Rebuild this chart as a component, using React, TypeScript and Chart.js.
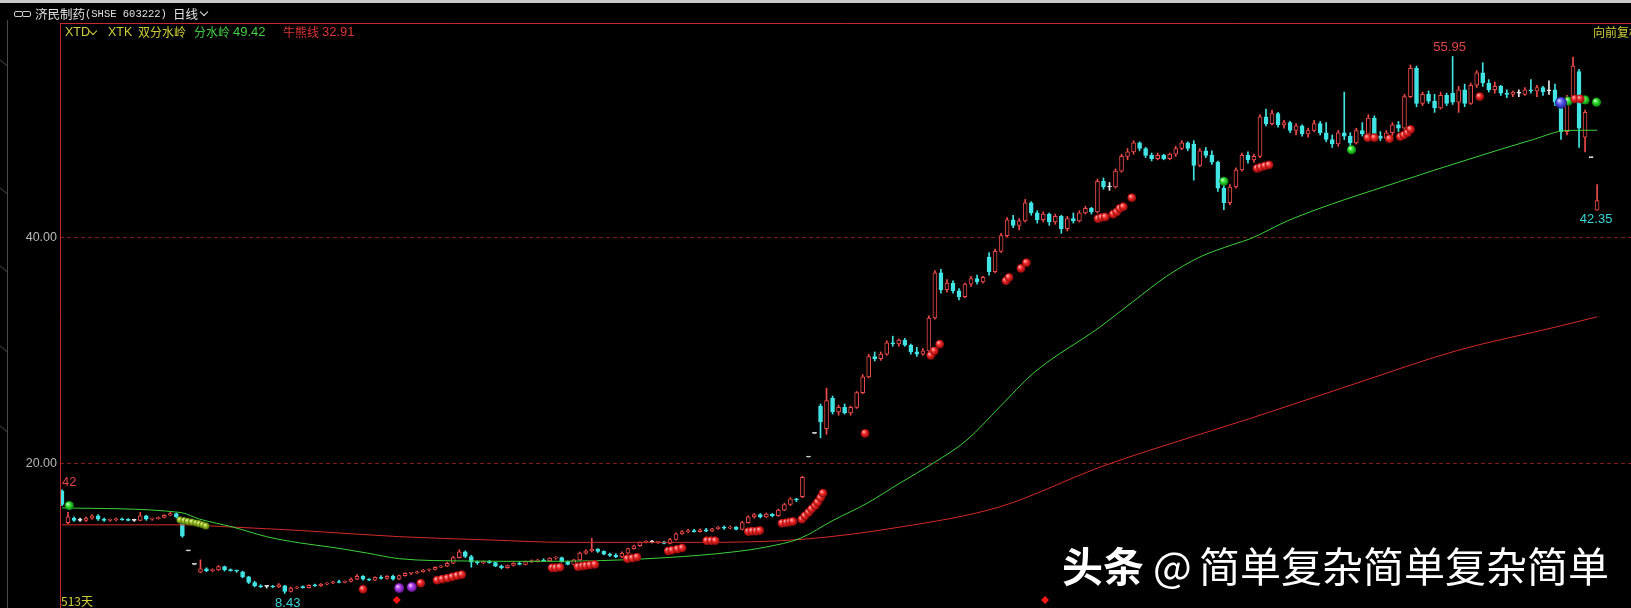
import React, { useEffect, useRef } from "react";
import { Chart, registerables } from "chart.js";

Chart.register(...registerables);

// ---------- data ----------
// daily candles compressed (one bar ≈ two sessions): [open, high, low, close]
const candles: number[][] = [
  [17.5,17.6,16.2,16.3],[14.7,15.6,14.6,15.2],[15.1,15.2,14.8,14.9],[14.9,15.1,14.8,14.9],[14.9,15.2,14.8,15.1],
  [15.1,15.4,15.0,15.3],[15.3,15.4,14.9,15.0],[15.0,15.1,14.8,14.9],[14.9,15.0,14.8,14.95],[14.95,15.1,14.85,15.0],
  [15.0,15.1,14.9,14.95],[14.95,15.05,14.85,14.9],[14.9,15.0,14.8,14.9],[14.9,15.6,14.85,15.3],[15.3,15.35,14.9,15.0],
  [15.0,15.1,14.9,15.05],[15.05,15.2,15.0,15.15],[15.15,15.4,15.1,15.35],[15.35,15.6,15.3,15.5],[15.5,15.55,15.1,15.2],
  [14.6,14.6,13.4,13.5],[12.2,12.2,12.2,12.2],[11.0,11.0,11.0,11.0],[10.3,11.4,10.25,10.6],[10.6,10.7,10.35,10.45],
  [10.45,10.6,10.35,10.5],[10.5,10.9,10.45,10.8],[10.8,10.85,10.4,10.5],[10.5,10.6,10.4,10.45],[10.45,10.5,10.3,10.4],
  [10.35,10.4,9.8,9.9],[9.9,9.95,9.3,9.4],[9.4,9.5,9.0,9.1],[9.1,9.2,8.95,9.0],[9.05,9.1,8.9,9.05],
  [9.05,9.15,8.95,9.0],[9.0,9.3,8.95,9.2],[9.1,9.15,8.43,8.6],[8.6,9.0,8.55,8.9],[8.9,9.05,8.85,9.0],
  [9.0,9.1,8.9,8.95],[8.95,9.2,8.9,9.15],[9.15,9.25,9.05,9.1],[9.1,9.3,9.05,9.25],[9.25,9.4,9.2,9.35],
  [9.35,9.5,9.3,9.45],[9.45,9.6,9.35,9.4],[9.4,9.55,9.35,9.5],[9.5,9.8,9.45,9.7],[9.7,10.1,9.65,9.95],
  [9.95,10.0,9.6,9.7],[9.7,9.75,9.55,9.6],[9.6,9.9,9.55,9.85],[9.85,10.0,9.7,9.75],[9.75,10.0,9.7,9.95],
  [9.95,10.05,9.6,9.7],[9.7,10.05,9.65,10.0],[10.0,10.25,9.95,10.2],[10.2,10.3,10.1,10.25],[10.25,10.4,10.2,10.35],
  [10.35,10.55,10.3,10.5],[10.5,10.6,10.4,10.55],[10.55,10.8,10.5,10.75],[10.75,10.9,10.7,10.85],[10.85,11.2,10.8,11.1],
  [11.1,11.7,11.05,11.6],[11.6,12.3,11.55,12.1],[12.1,12.2,11.6,11.7],[11.7,11.8,10.75,11.2],[11.2,11.3,11.0,11.15],
  [11.15,11.3,11.05,11.2],[11.2,11.35,11.1,11.15],[11.15,11.2,10.8,10.85],[10.85,10.95,10.6,10.7],[10.7,10.95,10.65,10.9],
  [10.9,11.15,10.85,11.1],[11.1,11.2,10.95,11.0],[11.0,11.3,10.95,11.25],[11.25,11.4,11.15,11.3],[11.3,11.45,11.2,11.35],
  [11.35,11.5,11.25,11.3],[11.3,11.6,11.25,11.55],[11.55,11.7,11.45,11.6],[11.6,11.65,11.2,11.25],[11.25,11.3,10.95,11.0],
  [11.0,11.45,10.95,11.4],[11.4,12.1,11.35,12.0],[12.0,12.3,11.9,12.2],[12.2,13.3,12.1,12.35],[12.35,12.4,12.05,12.15],
  [12.15,12.2,11.85,11.9],[11.9,12.0,11.7,11.8],[11.8,11.95,11.6,11.65],[11.65,12.1,11.6,12.0],[12.0,12.45,11.95,12.4],
  [12.4,12.7,12.35,12.65],[12.65,13.0,12.6,12.95],[12.95,13.1,12.9,13.0],[13.0,13.1,12.9,13.0],[12.95,13.05,12.85,13.0],
  [13.0,13.05,12.8,12.85],[12.85,13.3,12.8,13.2],[13.2,13.8,13.15,13.7],[13.7,14.0,13.65,13.9],[13.9,14.1,13.8,14.0],
  [14.0,14.1,13.85,13.9],[13.9,14.15,13.85,14.05],[14.05,14.2,13.9,13.95],[13.95,14.2,13.9,14.15],[14.15,14.35,14.1,14.3],
  [14.3,14.4,14.1,14.2],[14.2,14.4,14.15,14.3],[14.3,14.35,14.05,14.1],[14.1,14.8,14.05,14.7],[14.7,15.3,14.65,15.2],
  [15.2,15.5,15.1,15.4],[15.4,15.5,15.1,15.2],[15.2,15.55,15.15,15.45],[15.45,15.5,15.2,15.3],[15.3,15.9,15.25,15.8],
  [15.8,16.4,15.75,16.3],[16.3,16.9,16.2,16.8],[16.8,16.85,16.55,16.7],[17.0,18.8,16.9,18.7],[20.5,20.5,20.5,20.5],
  [22.6,22.6,22.6,22.6],[25.0,25.2,22.2,23.6],[23.0,26.6,22.5,25.5],[25.7,25.9,24.3,24.5],[24.5,25.1,24.2,24.9],
  [24.9,25.2,24.3,24.4],[24.4,25.0,24.2,24.9],[24.9,26.3,24.8,26.2],[26.2,27.8,26.1,27.6],[27.6,29.6,27.5,29.4],
  [29.4,29.8,29.0,29.2],[29.2,29.8,29.05,29.6],[29.6,30.8,29.5,30.6],[30.6,31.2,30.3,30.5],[30.5,30.95,30.3,30.85],
  [30.85,31.0,30.3,30.4],[30.4,30.5,29.6,29.8],[29.8,30.2,29.4,29.6],[29.6,30.1,29.5,29.9],[29.9,33.0,29.8,32.8],
  [32.8,37.0,32.7,36.8],[36.8,37.1,35.0,35.3],[35.3,36.2,35.1,35.9],[35.9,36.1,35.0,35.2],[35.2,35.4,34.4,34.7],
  [34.7,35.9,34.6,35.8],[35.8,36.5,35.6,36.3],[36.3,36.6,35.8,36.0],[36.0,36.5,35.9,36.4],[38.2,38.6,36.6,36.9],
  [36.9,38.9,36.8,38.7],[38.7,40.3,38.6,40.1],[40.1,41.7,40.0,41.5],[41.5,41.9,40.8,41.0],[41.0,41.6,40.6,41.4],
  [41.4,43.3,41.3,43.0],[43.0,43.1,41.9,42.1],[42.1,42.3,41.2,41.5],[41.5,42.2,41.3,42.0],[42.0,42.1,41.0,41.3],
  [41.3,42.0,41.1,41.8],[41.8,41.9,40.3,40.7],[40.7,41.8,40.5,41.6],[41.6,42.1,41.2,41.4],[41.4,42.3,41.3,42.1],
  [42.1,42.7,42.0,42.5],[42.5,42.6,42.0,42.2],[42.2,45.1,42.1,44.9],[44.9,45.2,44.2,44.4],[44.4,44.8,44.1,44.4],
  [44.4,46.0,44.3,45.8],[45.8,47.3,45.7,47.1],[47.1,47.8,46.8,47.5],[47.5,48.5,47.3,48.3],[48.3,48.4,47.6,47.8],
  [47.8,47.9,47.0,47.2],[47.2,47.4,46.7,46.9],[46.9,47.4,46.8,47.2],[47.2,47.3,46.8,46.9],[46.9,47.4,46.8,47.3],
  [47.3,48.0,47.1,47.8],[47.8,48.5,47.7,48.3],[48.3,48.4,47.6,47.8],[48.2,48.5,45.0,46.3],[46.3,47.8,46.2,47.6],
  [47.6,47.9,47.0,47.2],[47.2,47.6,46.4,46.6],[46.6,46.7,44.0,44.3],[44.3,45.0,42.4,43.0],[43.0,44.6,42.8,44.4],
  [44.4,46.1,44.3,45.9],[45.9,47.4,45.8,47.2],[47.2,47.5,46.5,46.8],[46.8,47.3,46.6,47.1],[47.1,50.8,47.0,50.6],
  [50.6,51.3,49.8,50.0],[50.0,51.2,49.9,50.9],[50.9,51.0,49.7,49.9],[49.9,50.3,49.6,50.1],[50.1,50.2,49.2,49.4],
  [49.4,50.0,49.0,49.8],[49.8,49.9,48.9,49.1],[49.1,49.6,48.8,49.4],[49.4,50.3,49.3,50.0],[50.0,50.2,49.0,49.2],
  [49.2,50.1,48.4,48.6],[48.6,49.0,47.9,48.2],[48.2,49.4,48.0,49.2],[49.2,52.8,48.6,48.9],[48.9,49.2,47.9,48.3],
  [48.3,49.6,48.2,49.4],[49.4,50.1,48.9,49.1],[49.1,50.8,49.0,50.5],[50.5,50.7,48.6,48.9],[48.9,49.3,48.5,48.7],
  [48.7,49.4,48.5,49.2],[49.2,50.1,48.9,49.9],[49.9,50.2,49.3,49.6],[49.6,52.6,49.5,52.4],[52.4,55.2,52.3,54.9],
  [54.9,55.1,51.5,51.8],[51.8,52.8,51.6,52.6],[52.6,52.9,51.8,52.0],[52.0,52.6,51.0,51.4],[51.4,52.8,51.3,52.5],
  [52.5,52.7,51.6,51.8],[52.7,55.95,51.7,51.9],[51.9,53.3,51.0,53.0],[53.0,53.5,51.5,51.8],[51.8,53.6,51.7,53.4],
  [53.4,54.7,53.2,54.5],[54.5,55.4,53.3,53.6],[53.6,53.9,52.8,53.0],[53.0,53.7,52.7,53.3],[53.3,53.4,52.5,52.7],
  [52.7,53.0,52.3,52.6],[52.6,52.9,52.4,52.8],[52.7,53.0,52.4,52.7],[52.6,53.2,52.5,53.0],[53.0,53.9,52.7,52.9],
  [52.9,53.4,52.4,53.2],[53.2,53.3,52.5,52.8],[52.9,53.8,52.6,52.9],[53.0,53.5,51.6,51.9],[51.9,52.1,48.6,49.3],
  [49.3,52.5,49.0,52.3],[52.3,55.9,52.2,55.1],[54.6,54.8,47.9,49.6],[48.8,51.2,47.5,51.0],[47.0,47.0,47.0,47.0],
  [42.35,44.6,42.35,43.2],
];

// 分水岭 (green) line vertices [barIndex, value]
const waterLine: number[][] = [
  [0,16.0],[19.6,15.6],[22.9,15.0],[28.4,14.3],[34,13.45],[39.5,12.9],[45,12.5],[50.7,12.0],[56.1,11.5],
  [67.3,11.3],[78.2,11.27],[89.4,11.33],[100.5,11.6],[111.5,12.1],[117.1,12.55],[122.6,13.3],[128.1,14.9],
  [133.7,16.4],[139.2,18.2],[144.7,19.95],[150.3,22.0],[155.8,24.95],[161.3,27.9],[172.4,32.0],[177.9,34.25],
  [183.5,36.5],[189,38.2],[194.5,39.3],[197.3,39.8],[204,41.5],[222.3,44.9],[233.4,46.8],[244.4,48.6],
  [250,49.4],[255,49.42],
];
// 牛熊线 (red) line vertices [barIndex, value]
const bullBearLine: number[][] = [
  [0,14.5],[19.6,14.5],[28.4,14.3],[39.5,14.0],[56.1,13.45],[71.1,13.16],[83.9,12.95],[106,12.95],
  [122.6,13.2],[139.2,14.3],[155.8,16.1],[172.4,19.6],[180.7,21.1],[197.3,23.9],[214.3,26.9],[231.6,29.9],
  [248.9,32.1],[255,32.91],
];

// signal balls [barIndex, price]
const redBalls: number[][] = [
  [50.0,8.8],[59.6,9.35],[62.3,9.6],[63.1,9.7],[64.0,9.78],[64.8,9.9],[65.6,10.0],[66.4,10.1],
  [81.4,10.7],[82.0,10.7],[82.7,10.75],[85.7,10.8],[86.4,10.85],[87.0,10.9],[87.7,10.95],[88.5,11.0],
  [93.9,11.5],[94.7,11.55],[95.5,11.65],[100.7,12.2],[101.3,12.25],[102.2,12.35],[103.0,12.45],
  [107.1,13.1],[107.8,13.1],[108.5,13.1],[114.0,13.9],[114.6,13.95],[115.3,13.95],[115.9,14.0],
  [119.6,14.65],[120.3,14.7],[120.9,14.75],[121.4,14.8],[122.9,15.0],[123.4,15.3],[124.0,15.6],[124.5,15.9],
  [125.1,16.2],[125.5,16.5],[126.0,16.9],[126.4,17.3],[133.4,22.6],[144.3,29.5],[144.9,29.9],[145.8,30.5],
  [156.8,36.1],[157.3,36.4],[159.3,37.2],[160.2,37.7],[172.1,41.6],[172.7,41.7],[173.3,41.75],
  [174.6,42.0],[175.2,42.2],[175.7,42.5],[176.3,42.65],[177.7,43.45],[198.5,46.05],[199.1,46.15],
  [199.8,46.26],[200.5,46.35],[216.9,48.76],[218.0,48.76],[220.5,48.67],[222.3,48.85],[222.9,49.0],
  [223.5,49.2],[224.0,49.5],[235.5,52.4],[251.3,52.2],[252.2,52.2],
];
const greenBalls: number[][] = [[1.2,16.2],[193,44.9],[214.2,47.7],[250.2,52.0],[253,52.1],[254.9,51.9]];
const oliveBalls: number[][] = [[19.6,14.93],[20.3,14.87],[20.9,14.8],[21.6,14.75],[22.3,14.66],[22.8,14.6],[23.4,14.5],[23.9,14.4]];
const purpleBalls: number[][] = [[56,8.9],[58.1,9.0]];
const blueBalls: number[][] = [[249,51.86]];
const diamonds: number[][] = [[55.6,7.85],[163.3,7.85]];

const yTicks = [20, 40];
const startLabel = "42";
const dayCountLabel = "513天";

// ---------- styling ----------
const UP = "#f04a4a";
const DOWN = "#42e4e4";
const FLAT = "#e8e8e8";
const LATIN = '"Liberation Sans", Arial, "Noto Sans CJK SC", sans-serif';
const CJK = '"Noto Sans CJK SC", "Liberation Sans", sans-serif';

const colorOf = (c: number[]) => (c[3] > c[0] ? UP : c[3] < c[0] ? DOWN : FLAT);

function ballFill(light: string, mid: string, dark: string, r: number) {
  return (ctx: any) => {
    const chart = ctx.chart;
    const raw = ctx.raw;
    if (!raw || !chart || !chart.scales || !chart.scales.x || !chart.scales.y) return mid;
    const px = chart.scales.x.getPixelForValue(raw[0]);
    const py = chart.scales.y.getPixelForValue(raw[1]);
    if (!isFinite(px) || !isFinite(py)) return mid;
    const g = chart.ctx.createRadialGradient(px - r * 0.35, py - r * 0.4, 0.3, px, py, r);
    g.addColorStop(0, light);
    g.addColorStop(0.45, mid);
    g.addColorStop(1, dark);
    return g;
  };
}

const decorPlugin = {
  id: "decor",
  beforeDraw(chart: any) {
    const c = chart.ctx;
    c.save();
    c.fillStyle = "#000";
    c.fillRect(0, 0, chart.width, chart.height);
    c.restore();
  },
  beforeDatasetsDraw(chart: any) {
    // horizontal dashed grid + value labels, placed through the y scale
    const c = chart.ctx;
    const a = chart.chartArea;
    const ys = chart.scales.y;
    c.save();
    c.strokeStyle = "#801b1b";
    c.lineWidth = 1;
    c.setLineDash([4, 3]);
    c.font = `12.5px ${LATIN}`;
    c.fillStyle = "#b8b8b8";
    c.textAlign = "right";
    c.textBaseline = "middle";
    yTicks.forEach((v) => {
      const py = Math.round(ys.getPixelForValue(v)) + 0.5;
      c.beginPath();
      c.moveTo(a.left, py);
      c.lineTo(a.right, py);
      c.stroke();
      c.fillText(v.toFixed(2), a.left - 3, py);
    });
    c.restore();
  },
  afterDatasetsDraw(chart: any) {
    const c = chart.ctx;
    const xs = chart.scales.x;
    const ys = chart.scales.y;
    let hi = 0;
    let lo = 0;
    candles.forEach((k, i) => {
      if (k[1] > candles[hi][1]) hi = i;
      if (k[2] < candles[lo][2]) lo = i;
    });
    const last = candles.length - 1;
    c.save();
    c.font = `13px ${LATIN}`;
    c.textAlign = "center";
    c.fillStyle = "#e04444";
    c.textBaseline = "bottom";
    c.fillText(candles[hi][1].toFixed(2), xs.getPixelForValue(hi) - 3, ys.getPixelForValue(candles[hi][1]) - 3);
    c.fillStyle = "#3ad6d6";
    c.textBaseline = "top";
    c.fillText(candles[lo][2].toFixed(2), xs.getPixelForValue(lo) + 3, ys.getPixelForValue(candles[lo][2]) + 3);
    c.fillText(candles[last][2].toFixed(2), xs.getPixelForValue(last) - 1, ys.getPixelForValue(candles[last][2]) + 3);
    c.textAlign = "left";
    c.textBaseline = "bottom";
    c.fillStyle = "#e04444";
    c.fillText(startLabel, xs.getPixelForValue(0), ys.getPixelForValue(candles[0][1]) - 1);
    c.restore();
  },
  afterDraw(chart: any) {
    const c = chart.ctx;
    const a = chart.chartArea;
    c.save();
    c.strokeStyle = "#c82a2a";
    c.lineWidth = 1;
    c.beginPath();
    c.moveTo(a.left + 0.5, a.top);
    c.lineTo(a.left + 0.5, chart.height);
    c.moveTo(a.left, a.top + 0.5);
    c.lineTo(chart.width, a.top + 0.5);
    c.stroke();
    // left tab strip
    c.strokeStyle = "#4a4a4a";
    c.beginPath();
    c.moveTo(7.5, 20);
    c.lineTo(7.5, chart.height);
    [60, 188, 266, 346, 426].forEach((y) => {
      c.moveTo(0, y);
      c.lineTo(7.5, y + 6);
    });
    c.stroke();
    c.restore();
  },
};

export default function App() {
  const ref = useRef<HTMLCanvasElement>(null);

  useEffect(() => {
    document.body.style.margin = "0";
    document.body.style.background = "#000";
    if (!ref.current) return;

    const ball = (data: number[][], r: number, light: string, mid: string, dark: string, order = 1) => ({
      type: "scatter",
      data,
      pointRadius: r,
      pointHoverRadius: r,
      backgroundColor: ballFill(light, mid, dark, r),
      borderWidth: 0,
      order,
    });

    const chart = new Chart(ref.current, {
      type: "bar",
      data: {
        datasets: [
          {
            type: "bar",
            data: candles.map((k, i) => ({ x: i, y: [k[2], k[1]] })),
            backgroundColor: candles.map(colorOf),
            borderWidth: 0,
            grouped: false,
            barThickness: 1,
            maxBarThickness: 1,
            order: 6,
          },
          {
            type: "bar",
            data: candles.map((k, i) => ({ x: i, y: [k[0], k[3]] })),
            backgroundColor: candles.map((k) => (k[3] > k[0] ? "#000" : colorOf(k))),
            borderColor: candles.map(colorOf),
            borderWidth: 1,
            borderSkipped: false,
            grouped: false,
            barThickness: 4,
            maxBarThickness: 4,
            minBarLength: 1,
            order: 5,
          },
          {
            type: "line",
            data: waterLine,
            borderColor: "#3cd23c",
            borderWidth: 1,
            pointRadius: 0,
            cubicInterpolationMode: "monotone",
            order: 4,
          },
          {
            type: "line",
            data: bullBearLine,
            borderColor: "#d42a2a",
            borderWidth: 1,
            pointRadius: 0,
            cubicInterpolationMode: "monotone",
            order: 4,
          },
          ball(oliveBalls, 3.6, "#e8f0a0", "#9ac020", "#4a6a08", 2),
          ball(redBalls, 4.4, "#ffb0b0", "#f02828", "#8a0808", 1),
          ball(greenBalls, 4.6, "#c8ffc8", "#30e030", "#0a7a0a", 1),
          ball(purpleBalls, 5, "#f0c0ff", "#b040e8", "#5a108a", 1),
          ball(blueBalls, 6, "#d8d8ff", "#5a5af0", "#1a1a8a", 0),
          {
            type: "scatter",
            data: diamonds,
            pointStyle: "rectRot",
            pointRadius: 4,
            backgroundColor: "#ff1414",
            borderWidth: 0,
            order: 0,
          },
        ] as any,
      },
      options: {
        responsive: false,
        maintainAspectRatio: false,
        animation: false,
        events: [],
        layout: { autoPadding: false, padding: { top: 23, left: 60, right: 0, bottom: 0 } },
        plugins: { legend: { display: false }, tooltip: { enabled: false } },
        scales: {
          x: {
            type: "linear",
            min: -0.332,
            max: 260.63,
            offset: false,
            display: false,
            grid: { display: false },
          },
          y: {
            type: "linear",
            min: 7.14,
            max: 58.91,
            display: false,
            grid: { display: false },
          },
        },
      } as any,
      plugins: [decorPlugin],
    });
    return () => chart.destroy();
  }, []);

  const txt = (x: number, y: number, s: string, color: string, size = 12, family = CJK, extra: any = {}) => (
    <span
      style={{
        position: "absolute",
        left: x,
        top: y,
        fontSize: size,
        lineHeight: `${size + 2}px`,
        color,
        fontFamily: family,
        whiteSpace: "nowrap",
        ...extra,
      }}
    >
      {s}
    </span>
  );

  const chevron = (x: number, y: number, color: string) => (
    <span
      style={{
        position: "absolute",
        left: x,
        top: y,
        width: 5,
        height: 5,
        borderRight: `1.5px solid ${color}`,
        borderBottom: `1.5px solid ${color}`,
        transform: "rotate(45deg)",
      }}
    />
  );

  const waterVal = waterLine[waterLine.length - 1][1].toFixed(2);
  const bullVal = bullBearLine[bullBearLine.length - 1][1].toFixed(2);

  return (
    <div style={{ position: "relative", width: 1631, height: 608, overflow: "hidden", background: "#000" }}>
      <canvas
        ref={ref}
        width={1631}
        height={608}
        style={{ position: "absolute", left: 0, top: 0, width: 1631, height: 608 }}
      />
      <div style={{ position: "absolute", left: 0, top: 0, width: 1631, height: 3, background: "#c8c8c8" }} />
      {/* link icon */}
      <span style={{ position: "absolute", left: 14, top: 11, width: 7, height: 4, border: "1px solid #cfcfcf", borderRadius: 2 }} />
      <span style={{ position: "absolute", left: 22, top: 11, width: 7, height: 4, border: "1px solid #cfcfcf", borderRadius: 2 }} />
      {txt(35, 7, "济民制药", "#e2e2e2", 12.5)}
      {txt(85, 7, "(SHSE 603222)", "#e2e2e2", 10.5, '"Liberation Mono", monospace', { lineHeight: "15px" })}
      {txt(173, 7, "日线", "#e2e2e2", 12.5)}
      {chevron(201, 9, "#e2e2e2")}

      {txt(65, 25, "XTD", "#cfcf3c", 12.5, LATIN)}
      {chevron(90, 28, "#cfcf3c")}
      {txt(108, 25, "XTK", "#cfcf3c", 12.5, LATIN)}
      {txt(138, 25, "双分水岭", "#cfcf3c", 12)}
      {txt(194, 25, "分水岭", "#44cc44", 12)}
      {txt(233, 25, waterVal, "#44cc44", 13, LATIN, { lineHeight: "14px" })}
      {txt(283, 25, "牛熊线", "#e03434", 12)}
      {txt(322, 25, bullVal, "#e03434", 13, LATIN, { lineHeight: "14px" })}
      {txt(1593, 25, "向前复权", "#cfcf3c", 12)}

      {txt(61, 594, dayCountLabel, "#cfcf3c", 12)}

      {txt(1062, 544, "头条", "#ffffff", 41, CJK, { fontWeight: 700, lineHeight: "41px" })}
      {txt(1153, 544, "@", "#ffffff", 41, CJK, { lineHeight: "41px" })}
      {txt(1199, 544, "简单复杂简单复杂简单", "#ffffff", 41, CJK, { lineHeight: "41px" })}
    </div>
  );
}
